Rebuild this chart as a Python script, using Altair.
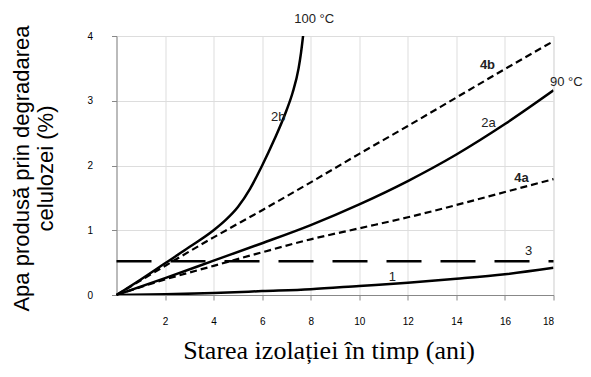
import altair as alt
import pandas as pd

# ---- data ----
years = [0, 2, 4, 6, 8, 10, 12, 14, 16, 18]
curve_1 = [0, 0.01, 0.03, 0.06, 0.09, 0.14, 0.19, 0.25, 0.32, 0.42]
curve_2a = [0, 0.26, 0.53, 0.80, 1.08, 1.40, 1.76, 2.17, 2.64, 3.16]
curve_4a = [0, 0.24, 0.45, 0.66, 0.86, 1.03, 1.20, 1.39, 1.59, 1.79]
curve_4b = [0, 0.45, 0.89, 1.31, 1.74, 2.18, 2.61, 3.05, 3.49, 3.92]
years_3 = [0, 18]
curve_3 = [0.52, 0.52]
years_2b = [0, 1, 2, 3, 4, 4.5, 5, 5.5, 6, 6.5, 7, 7.25, 7.5, 7.6, 7.7]
curve_2b = [0, 0.24, 0.49, 0.74, 1.0, 1.16, 1.36, 1.64, 2.0, 2.4, 2.85, 3.12, 3.5, 3.74, 4.05]

label_text = ["100 °C", "2b", "4b", "90 °C", "2a", "4a", "3", "1"]
label_x = [8.14, 6.66, 15.28, 18.53, 15.32, 16.68, 16.97, 11.36]
label_y = [4.27, 2.75, 3.55, 3.29, 2.65, 1.81, 0.68, 0.28]
label_bold = [False, False, True, False, False, True, False, False]

y_title = ["Apa produsă prin degradarea", "celulozei (%)"]
x_title = "Starea izolației în timp (ani)"

x_ticks = [2, 4, 6, 8, 10, 12, 14, 16, 18]
y_ticks = [0, 1, 2, 3, 4]

# ---- tables ----
rows = []
def add(name, style, xs, ys):
    for a, b in zip(xs, ys):
        rows.append({"series": name, "style": style, "x": a, "y": b})

add("1", "solid", years, curve_1)
add("2a", "solid", years, curve_2a)
add("2b", "solid", years_2b, curve_2b)
add("4a", "short", years, curve_4a)
add("4b", "short", years, curve_4b)
add("3", "long", years_3, curve_3)
df = pd.DataFrame(rows)

labels = pd.DataFrame({"text": label_text, "x": label_x, "y": label_y, "bold": label_bold})

xs = alt.Scale(domain=[0, 18], nice=False, zero=False)
ys = alt.Scale(domain=[0, 4], nice=False)

x_enc = alt.X("x:Q", scale=xs, axis=alt.Axis(
    values=x_ticks, format="d", title=x_title,
    titleFont="Liberation Serif", titleFontSize=26, titleFontWeight="normal",
    titleColor="black", titleX=212, titleY=63, titleBaseline="alphabetic",
    titleAlign="center", labelPadding=16))
y_enc = alt.Y("y:Q", scale=ys, axis=alt.Axis(
    values=y_ticks, format="d", title=y_title,
    titleFont="Liberation Sans", titleFontSize=22, titleFontWeight="normal",
    titleColor="black", titleX=-88, titleY=132, titleBaseline="alphabetic",
    titleAlign="center", titleAngle=270, titleLineHeight=24, labelPadding=19))

base = alt.Chart(df)

solid = base.transform_filter(alt.datum.style == "solid").mark_line(
    color="black", strokeWidth=2.5, interpolate="monotone", clip=True
).encode(x=x_enc, y=y_enc, detail="series:N", order="x:Q")

short = base.transform_filter(alt.datum.style == "short").mark_line(
    color="black", strokeWidth=2.2, strokeDash=[7, 4], interpolate="monotone"
).encode(x="x:Q", y="y:Q", detail="series:N", order="x:Q")

long = base.transform_filter(alt.datum.style == "long").mark_line(
    color="black", strokeWidth=2.5, strokeDash=[35, 19]
).encode(x="x:Q", y="y:Q")

lab = alt.Chart(labels)
txt_normal = lab.transform_filter(alt.datum.bold == False).mark_text(
    font="Liberation Sans", fontSize=13, color="#222", baseline="middle", align="center"
).encode(x="x:Q", y="y:Q", text="text:N")
txt_bold = lab.transform_filter(alt.datum.bold == True).mark_text(
    font="Liberation Sans", fontSize=13, fontWeight="bold", color="#222",
    baseline="middle", align="center"
).encode(x="x:Q", y="y:Q", text="text:N")

chart = alt.layer(solid, short, long, txt_normal, txt_bold).properties(
    width=437, height=259,
    autosize=alt.AutoSizeParams(type="none"),
    padding={"left": 108.5, "top": 28, "right": 29.5, "bottom": 74},
).configure_view(
    stroke="#8c8c8c", strokeWidth=1.5
).configure_axis(
    grid=True, gridColor="#8c8c8c", gridWidth=1.5, gridOpacity=1,
    ticks=False, tickSize=0, domain=False,
    labelFont="Liberation Sans", labelFontSize=13.5, labelColor="#2a2a2a",
).configure(background="white")

chart.save("out.html", embed_options={"renderer": "svg", "actions": False})
